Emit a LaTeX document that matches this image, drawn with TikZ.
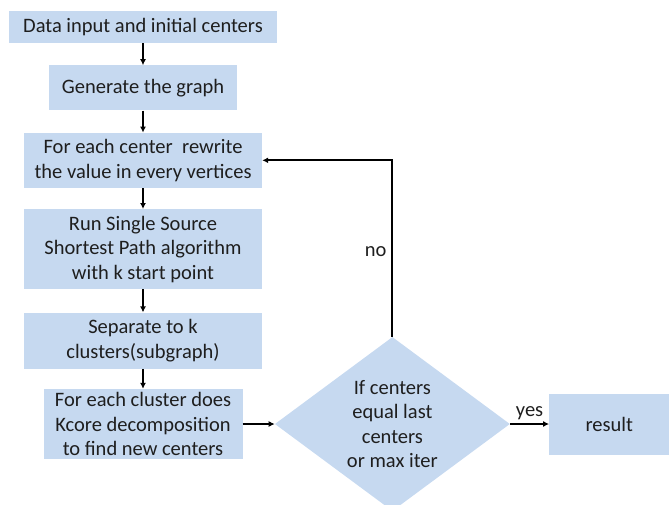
\documentclass[tikz,border=0pt]{standalone}
\usepackage{fontspec}
\setmainfont{Carlito}
\usepackage{xcolor}
\usetikzlibrary{positioning,shapes.geometric,arrows.meta}
\definecolor{boxblue}{RGB}{198,217,240}
\definecolor{inktext}{RGB}{30,30,30}

\begin{document}
\begin{tikzpicture}[
    x=1pt, y=-1pt, % pixel-like units
    node distance=21pt,
    every node/.style={font=\fontsize{20.5}{24.5}\selectfont, text=inktext, text centered, align=center, inner sep=0pt}, % General node style
    stepbox/.style={fill=boxblue, minimum width=238pt}, % Process step
    decision/.style={diamond, fill=boxblue, aspect=1.37, minimum width=235pt, minimum height=174pt}, % Test
    link/.style={-{Latex[length=6pt,width=6pt]}, line width=1.9pt} % Connector
]
\useasboundingbox (0,0) rectangle (670,504);

\node[stepbox, minimum width=268pt, minimum height=32pt] (input) at (143,27) {Data input and initial centers};
\node[stepbox, minimum width=188pt, minimum height=45pt, below=22pt of input] (graph) {Generate the graph};
\node[stepbox, minimum height=55pt, below=22pt of graph] (rewrite) {For each center\ \ rewrite\\the value in every vertices};
\node[stepbox, minimum height=80pt, below=of rewrite] (sssp) {Run Single Source\\Shortest Path algorithm\\with k start point};
\node[stepbox, minimum height=56pt, below=23pt of sssp] (separate) {Separate to k\\clusters(subgraph)};
\node[stepbox, minimum width=199pt, minimum height=70pt, below=20pt of separate] (kcore) {For each cluster does\\Kcore decomposition\\to find new centers};
\node[decision, right=32pt of kcore] (check) {If centers\\equal last\\centers\\or max iter};
\node[fill=boxblue, minimum width=120pt, minimum height=61pt, right=39pt of check] (result) {result};

\coordinate (turn) at (check.north |- rewrite.east);

\draw[link] (input) -- (graph);
\draw[link] (graph) -- (rewrite);
\draw[link] (rewrite) -- (sssp);
\draw[link] (sssp) -- (separate);
\draw[link] (separate) -- (kcore);
\draw[link] (kcore) -- (check);
\draw[link] (check) -- node[above=3pt] {yes} (result);
\draw[link] (check.north) -- node[left=5pt, pos=0.48] {no} (turn) -- (rewrite.east);
\end{tikzpicture}
\end{document}
